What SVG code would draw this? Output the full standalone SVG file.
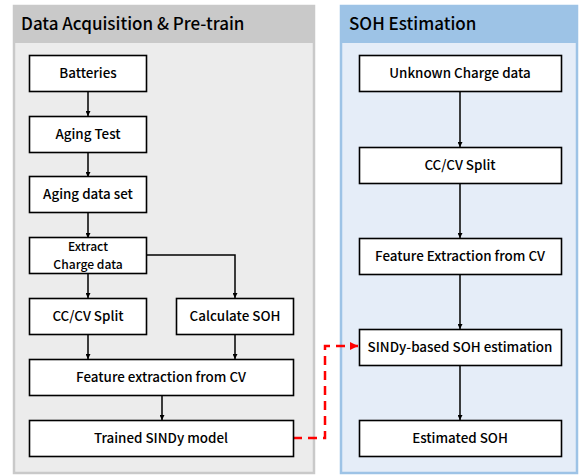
<svg xmlns="http://www.w3.org/2000/svg" width="583" height="476" viewBox="0 0 583 476">
<style>
.box{fill:#fff;stroke:#000;stroke-width:1.6}
.t{font-family:"Noto Sans CJK KR","Noto Sans",sans-serif;font-size:13.4px;font-weight:500;fill:#000;text-anchor:middle}
.t2{font-size:12.1px}
.h{font-family:"Noto Sans CJK KR","Noto Sans",sans-serif;font-size:17px;font-weight:500;fill:#000}
.c{fill:none;stroke:#000;stroke-width:1.5}
.d{fill:none;stroke:#f00;stroke-width:2.5;stroke-dasharray:9 6}
</style>
<defs>
<marker id="a" viewBox="0 0 10 10" refX="10" refY="5" markerWidth="5" markerHeight="5" orient="auto" markerUnits="userSpaceOnUse"><path d="M0,0L10,5L0,10z" fill="#000"/></marker>
<marker id="r" viewBox="0 0 10 10" refX="10" refY="5" markerWidth="8" markerHeight="8" orient="auto" markerUnits="userSpaceOnUse"><path d="M0,0L10,5L0,10z" fill="#f00"/></marker>
</defs>
<g id="panel-left">
<rect x="14" y="6" width="300" height="467" fill="#ececec" stroke="#c9c9c9" stroke-width="2.5"/>
<rect x="14" y="6" width="300" height="37" fill="#c9c9c9"/>
<text class="h" x="21" y="30">Data Acquisition &amp; Pre-train</text>
</g>
<g id="panel-right">
<rect x="341" y="6" width="236" height="467" fill="#e5edf8" stroke="#9dc3e6" stroke-width="2.5"/>
<rect x="341" y="6" width="236" height="37" fill="#9dc3e6"/>
<text class="h" x="349" y="30">SOH Estimation</text>
</g>
<g id="connectors">
<path class="c" d="M88,91V116" marker-end="url(#a)"/>
<path class="c" d="M88,152V177" marker-end="url(#a)"/>
<path class="c" d="M88,212V238" marker-end="url(#a)"/>
<path class="c" d="M88,273V298" marker-end="url(#a)"/>
<path class="c" d="M146,255H235V298" marker-end="url(#a)"/>
<path class="c" d="M88,334V359" marker-end="url(#a)"/>
<path class="c" d="M235,334V359" marker-end="url(#a)"/>
<path class="c" d="M162,396V420" marker-end="url(#a)"/>
<path class="c" d="M460,91V147" marker-end="url(#a)"/>
<path class="c" d="M460,183V238" marker-end="url(#a)"/>
<path class="c" d="M460,274V329" marker-end="url(#a)"/>
<path class="c" d="M460,365V420" marker-end="url(#a)"/>
<path class="d" d="M293,438H325V346H358" marker-end="url(#r)"/>
</g>
<g id="n-batteries"><rect class="box" x="29.5" y="55.5" width="117" height="36"/><text class="t" x="88" y="78">Batteries</text></g>
<g id="n-aging-test"><rect class="box" x="29.5" y="116.5" width="117" height="36"/><text class="t" x="88" y="139">Aging Test</text></g>
<g id="n-aging-data"><rect class="box" x="29.5" y="176.5" width="117" height="36"/><text class="t" x="88" y="199">Aging data set</text></g>
<g id="n-extract"><rect class="box" x="29.5" y="237.5" width="117" height="36"/><text class="t t2" x="88" y="251">Extract</text><text class="t t2" x="88" y="268.8">Charge data</text></g>
<g id="n-ccsplit"><rect class="box" x="29.5" y="298.5" width="117" height="36"/><text class="t" x="88" y="321">CC/CV Split</text></g>
<g id="n-calc-soh"><rect class="box" x="176.5" y="298.5" width="117" height="36"/><text class="t" x="235" y="321">Calculate SOH</text></g>
<g id="n-feature"><rect class="box" x="29.5" y="359.5" width="264" height="36"/><text class="t" x="161" y="382">Feature extraction from CV</text></g>
<g id="n-trained"><rect class="box" x="29.5" y="420.5" width="264" height="36"/><text class="t" x="161" y="443">Trained SINDy model</text></g>
<g id="n-unknown"><rect class="box" x="359.5" y="55.5" width="202" height="36"/><text class="t" x="460" y="78">Unknown Charge data</text></g>
<g id="n-ccsplit2"><rect class="box" x="359.5" y="147.5" width="202" height="36"/><text class="t" x="460" y="170">CC/CV Split</text></g>
<g id="n-feature2"><rect class="box" x="359.5" y="238.5" width="202" height="36"/><text class="t" x="460" y="261">Feature Extraction from CV</text></g>
<g id="n-sindy"><rect class="box" x="359.5" y="329.5" width="202" height="36"/><text class="t" x="460" y="352">SINDy-based SOH estimation</text></g>
<g id="n-estimated"><rect class="box" x="359.5" y="420.5" width="202" height="36"/><text class="t" x="460" y="443">Estimated SOH</text></g>
</svg>
